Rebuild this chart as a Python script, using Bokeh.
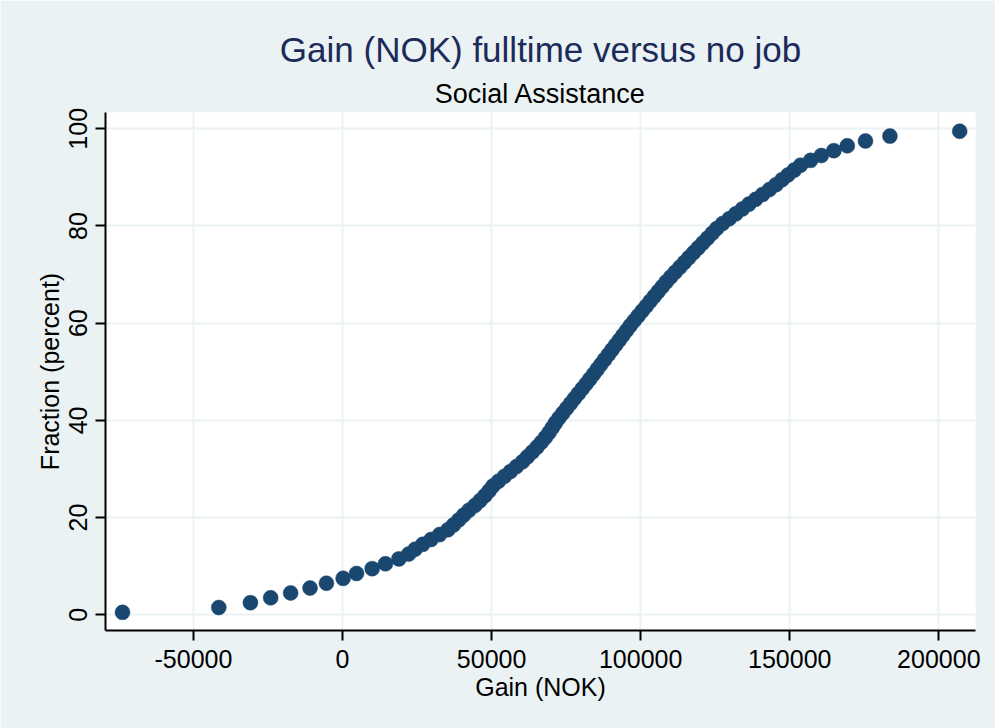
from bokeh.plotting import figure
from bokeh.models import FixedTicker, Title, Range1d, ColumnDataSource, CustomJSTickFormatter
from bokeh.embed import file_html
from bokeh.resources import INLINE

# Cumulative fraction (percent) and gain (NOK)
fraction = [
    0.5, 1.5, 2.5, 3.5, 4.5, 5.5, 6.5, 7.5, 8.5, 9.5,
    10.5, 11.5, 12.5, 13.5, 14.5, 15.5, 16.5, 17.5, 18.5, 19.5,
    20.5, 21.5, 22.5, 23.5, 24.5, 25.5, 26.5, 27.5, 28.5, 29.5,
    30.5, 31.5, 32.5, 33.5, 34.5, 35.5, 36.5, 37.5, 38.5, 39.5,
    40.5, 41.5, 42.5, 43.5, 44.5, 45.5, 46.5, 47.5, 48.5, 49.5,
    50.5, 51.5, 52.5, 53.5, 54.5, 55.5, 56.5, 57.5, 58.5, 59.5,
    60.5, 61.5, 62.5, 63.5, 64.5, 65.5, 66.5, 67.5, 68.5, 69.5,
    70.5, 71.5, 72.5, 73.5, 74.5, 75.5, 76.5, 77.5, 78.5, 79.5,
    80.5, 81.5, 82.5, 83.5, 84.5, 85.5, 86.5, 87.5, 88.5, 89.5,
    90.5, 91.5, 92.5, 93.5, 94.5, 95.5, 96.5, 97.5, 98.5, 99.5,
]
gain = [
    -73800, -41500, -30900, -24100, -17400, -10900, -5400, 200, 4700, 9950,
    14400, 18900, 22200, 24350, 26900, 29700, 32560, 35360, 37230, 38960,
    40620, 42400, 44400, 46140, 47730, 49160, 50450, 52340, 54340, 56340,
    58360, 60350, 62000, 63640, 65230, 66680, 68060, 69290, 70350, 71410,
    72590, 73890, 75180, 76490, 77780, 79070, 80380, 81670, 82940, 84190,
    85420, 86650, 87880, 89110, 90340, 91580, 92810, 94040, 95280, 96510,
    97800, 99150, 100490, 101830, 103170, 104530, 105870, 107210, 108560, 110050,
    111570, 113120, 114640, 116170, 117720, 119280, 120840, 122420, 123980, 125540,
    127500, 129690, 131890, 134090, 136300, 138590, 140910, 143200, 145400, 147400,
    149400, 151500, 153600, 157000, 160600, 164800, 169300, 175400, 183600, 207000,
]
x_ticks = [-50000, 0, 50000, 100000, 150000, 200000]
y_ticks = [0, 20, 40, 60, 80, 100]

title_text = "Gain (NOK) fulltime versus no job"
subtitle_text = "Social Assistance"
x_label = "Gain (NOK)"
y_label = "Fraction (percent)"

BG = "#EAF2F3"
NAVY = "#1A476F"
FONT = "Liberation Sans"

p = figure(width=995, height=728, output_backend="svg", toolbar_location=None,
           x_range=Range1d(-79500, 212300), y_range=Range1d(-3.23, 103.35),
           min_border_left=105, min_border_right=20, min_border_top=112, min_border_bottom=98)
p.background_fill_color = "white"
p.border_fill_color = BG
p.outline_line_color = None

p.add_layout(Title(text=subtitle_text, align="center", text_font=FONT,
                   text_font_size="27px", text_font_style="normal",
                   text_color="black", standoff=8), "above")
p.add_layout(Title(text=title_text, align="center", text_font=FONT,
                   text_font_size="35px", text_font_style="normal",
                   text_color="#1C2A5A", standoff=7), "above")

src = ColumnDataSource(dict(x=gain, y=fraction))
p.scatter("x", "y", source=src, size=15, fill_color=NAVY, line_color=NAVY, line_width=0.5)

fmt = CustomJSTickFormatter(code="return tick.toFixed(0);")
for ax in (p.xaxis[0], p.yaxis[0]):
    ax.axis_line_color = "black"
    ax.axis_line_width = 2
    ax.major_tick_line_color = "black"
    ax.major_tick_line_width = 2
    ax.major_tick_out = 10
    ax.major_tick_in = 0
    ax.minor_tick_line_color = None
    ax.formatter = fmt
    ax.major_label_text_font = FONT
    ax.major_label_text_font_size = "25px"
    ax.major_label_text_color = "black"
    ax.axis_label_text_font = FONT
    ax.axis_label_text_font_size = "25px"
    ax.axis_label_text_font_style = "normal"
    ax.axis_label_text_color = "black"

p.xaxis.ticker = FixedTicker(ticks=x_ticks)
p.yaxis.ticker = FixedTicker(ticks=y_ticks)
p.xaxis.axis_label = x_label
p.yaxis.axis_label = y_label
p.yaxis.major_label_orientation = "vertical"
p.xaxis.major_label_standoff = 9
p.yaxis.major_label_standoff = 8
p.xaxis.axis_label_standoff = 2
p.yaxis.axis_label_standoff = 3

p.xgrid.ticker = FixedTicker(ticks=x_ticks)
p.ygrid.ticker = FixedTicker(ticks=y_ticks)
p.grid.grid_line_color = BG
p.grid.grid_line_width = 2

open("out.html", "w").write(file_html(p, INLINE))
